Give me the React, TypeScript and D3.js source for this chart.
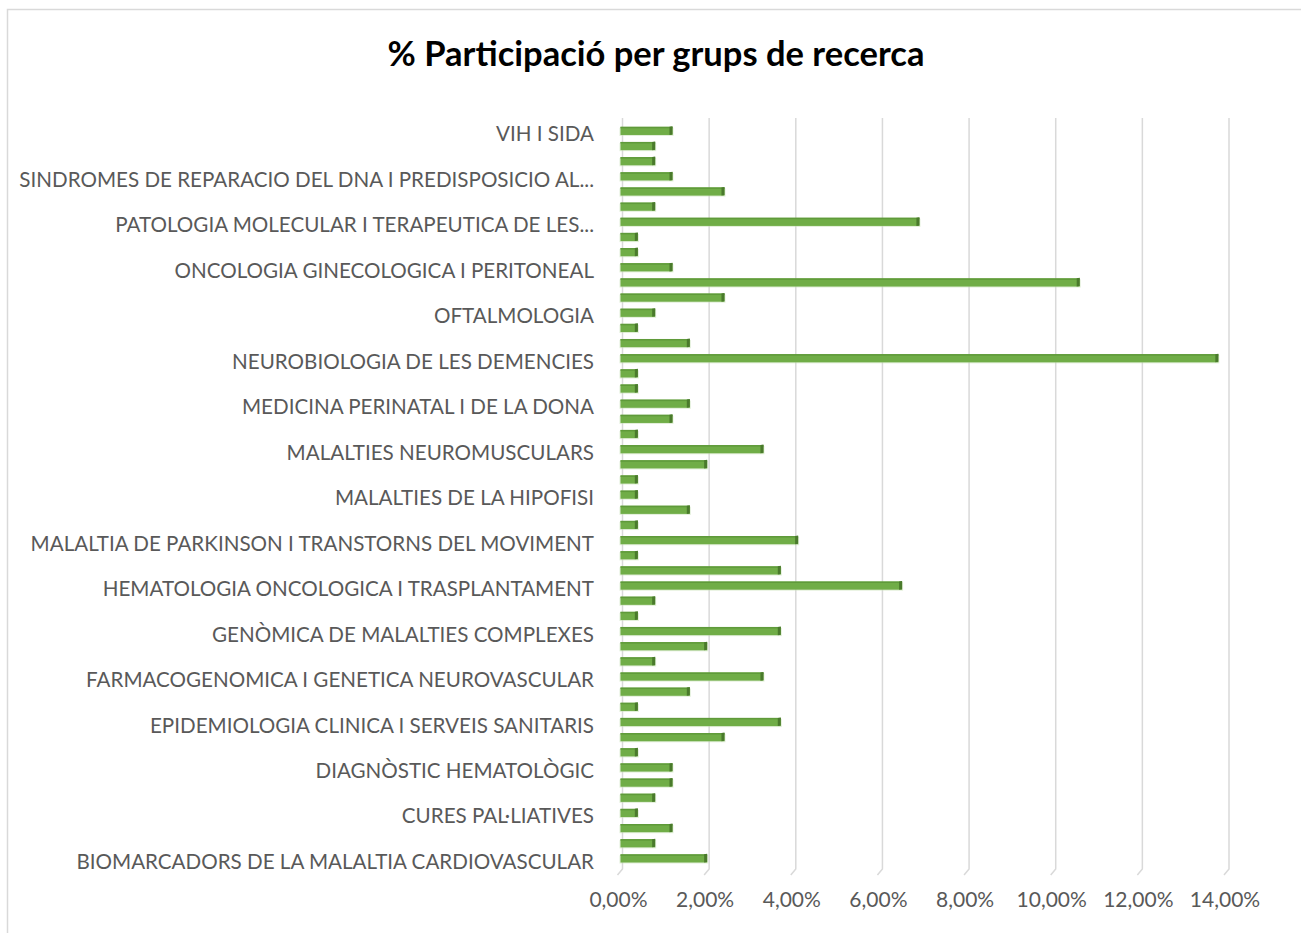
import React from "react";
import * as d3 from "d3";

// values are read top to bottom (first = VIH I SIDA row)
const values: number[] = [
  1.2, 0.8, 0.8, 1.2, 2.4, 0.8, 6.9, 0.4,
  0.4, 1.2, 10.6, 2.4, 0.8, 0.4, 1.6, 13.8,
  0.4, 0.4, 1.6, 1.2, 0.4, 3.3, 2.0, 0.4,
  0.4, 1.6, 0.4, 4.1, 0.4, 3.7, 6.5, 0.8,
  0.4, 3.7, 2.0, 0.8, 3.3, 1.6, 0.4, 3.7,
  2.4, 0.4, 1.2, 1.2, 0.8, 0.4, 1.2, 0.8,
  2.0,
];

// only every third category shows its label on the axis
const labels: Record<number, string> = {
  0: "VIH I SIDA",
  3: "SINDROMES DE REPARACIO DEL DNA I PREDISPOSICIO AL...",
  6: "PATOLOGIA MOLECULAR I TERAPEUTICA DE LES...",
  9: "ONCOLOGIA GINECOLOGICA I PERITONEAL",
  12: "OFTALMOLOGIA",
  15: "NEUROBIOLOGIA DE LES DEMENCIES",
  18: "MEDICINA PERINATAL I DE LA DONA",
  21: "MALALTIES NEUROMUSCULARS",
  24: "MALALTIES DE LA HIPOFISI",
  27: "MALALTIA DE PARKINSON I TRANSTORNS DEL MOVIMENT",
  30: "HEMATOLOGIA ONCOLOGICA I TRASPLANTAMENT",
  33: "GENÒMICA DE MALALTIES COMPLEXES",
  36: "FARMACOGENOMICA I GENETICA NEUROVASCULAR",
  39: "EPIDEMIOLOGIA CLINICA I SERVEIS SANITARIS",
  42: "DIAGNÒSTIC HEMATOLÒGIC",
  45: "CURES PAL·LIATIVES",
  48: "BIOMARCADORS DE LA MALALTIA CARDIOVASCULAR",
};

const xTicks = [0, 2, 4, 6, 8, 10, 12, 14];
const title = "% Participació per grups de recerca";

const W = 1301;
const H = 933;
const FONT = "Lato, 'Open Sans', sans-serif";

export default function App() {
  const idx = values.map((_, i) => i);
  const x = d3.scaleLinear().domain([0, 14]).range([620.5, 1227]);
  const y = d3
    .scaleBand<number>()
    .domain(idx)
    .range([122.7, 866.6])
    .paddingInner(0.46)
    .paddingOuter(0.27);
  const bh = y.bandwidth();
  const fmt = (v: number) => v.toFixed(2).replace(".", ",") + "%";

  return (
    <svg
      width={W}
      height={H}
      style={{ position: "absolute", left: 0, top: 0, background: "#fff" }}
    >
      <rect x={7.5} y={9.5} width={W} height={H} fill="#fff" stroke="#d9d9d9" strokeWidth={1.5} />
      <text
        x={656}
        y={66}
        textAnchor="middle"
        fontFamily={FONT}
        fontWeight={700}
        fontSize={34.5}
        fill="#000"
      >
        {title}
      </text>

      {/* grid lines with 3D floor foot */}
      {xTicks.map((t) => {
        const gx = x(t) + 2;
        return (
          <g key={t}>
            <path
              d={`M${gx},118 L${gx},869 L${gx - 5},875`}
              fill="none"
              stroke="#d9d9d9"
              strokeWidth={1.5}
            />
            <text
              x={gx - 4}
              y={907}
              textAnchor="middle"
              fontFamily={FONT}
              fontSize={21}
              fill="#595959"
            >
              {fmt(t)}
            </text>
          </g>
        );
      })}

      {/* bars */}
      {values.map((v, i) => {
        const by = y(i)!;
        const x0 = x(0);
        const x1 = x(v);
        return (
          <g key={i}>
            <rect x={x0 - 1} y={by + 1} width={x1 - x0 + 2} height={bh} fill="#c5e0b4" opacity={0.5} />
            <rect x={x0} y={by} width={x1 - x0} height={bh} fill="#70ad47" />
            <rect x={x0} y={by} width={x1 - x0} height={1.5} fill="#5f9a3a" />
            <path
              d={`M${x1 - 3},${by} L${x1},${by - 0.5} L${x1},${by + bh - 0.5} L${x1 - 3},${by + bh} Z`}
              fill="#4a7a2c"
            />
          </g>
        );
      })}

      {/* category labels */}
      {idx
        .filter((i) => labels[i] !== undefined)
        .map((i) => (
          <text
            key={i}
            x={594}
            y={y(i)! + bh / 2 + 10.5}
            textAnchor="end"
            fontFamily={FONT}
            fontSize={20.6}
            fill="#595959"
          >
            {labels[i]}
          </text>
        ))}
    </svg>
  );
}
